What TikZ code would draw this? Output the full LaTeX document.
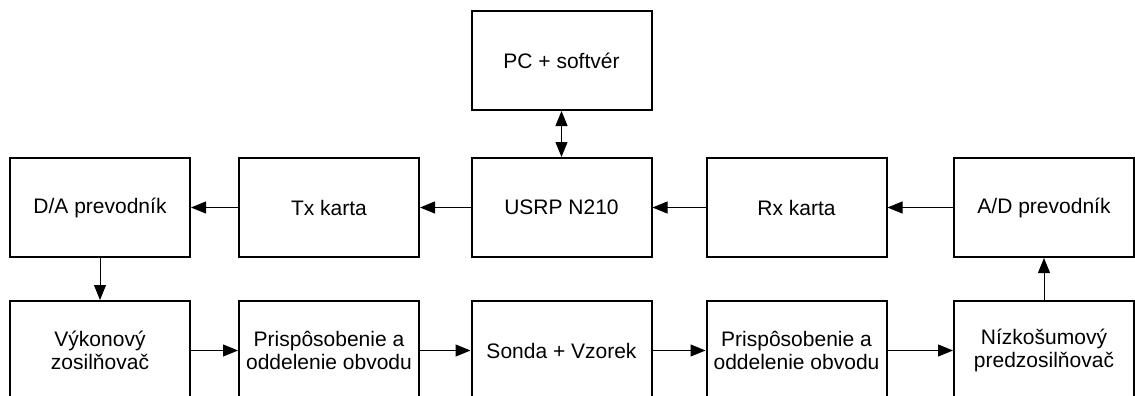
\documentclass[tikz,border=0pt]{standalone}
\usepackage{fontspec}
\setmainfont{Liberation Sans}
\usetikzlibrary{arrows.meta}
\begin{document}
\begin{tikzpicture}[x=1pt,y=-1pt,
  blockbox/.style={draw=black,line width=2pt,minimum width=180pt,minimum height=99pt,
    inner sep=0pt,align=center,font=\fontsize{21}{23}\selectfont},
  conn/.style={line width=1pt,-{Triangle[length=15pt,width=12pt]}},
  biconn/.style={line width=1pt,{Triangle[length=15pt,width=12pt]}-{Triangle[length=15pt,width=12pt]}}]
\clip (0,0) rectangle (1135,396);
\fill[white] (0,0) rectangle (1135,396);
\node[blockbox] (pc) at (561.5,60.5) {PC + softvér};
\node[blockbox] (da) at (100,207.5) {D/A prevodník};
\node[blockbox] (tx) at (329,207.5) {Tx karta};
\node[blockbox] (usrp) at (561.5,207.5) {USRP N210};
\node[blockbox] (rx) at (796.5,207.5) {Rx karta};
\node[blockbox] (ad) at (1044,207.5) {A/D prevodník};
\node[blockbox] (pa) at (100,350.5) {Výkonový\\zosilňovač};
\node[blockbox] (m1) at (329,350.5) {Prispôsobenie a\\oddelenie obvodu};
\node[blockbox] (s) at (561.5,350.5) {Sonda + Vzorek};
\node[blockbox] (m2) at (796.5,350.5) {Prispôsobenie a\\oddelenie obvodu};
\node[blockbox] (lna) at (1044,350.5) {Nízkošumový\\predzosilňovač};
\draw[biconn] (pc) -- (usrp);
\draw[conn] (tx) -- (da);
\draw[conn] (usrp) -- (tx);
\draw[conn] (rx) -- (usrp);
\draw[conn] (ad) -- (rx);
\draw[conn] (da) -- (pa);
\draw[conn] (pa) -- (m1);
\draw[conn] (m1) -- (s);
\draw[conn] (s) -- (m2);
\draw[conn] (m2) -- (lna);
\draw[conn] (lna) -- (ad);
\end{tikzpicture}
\end{document}
